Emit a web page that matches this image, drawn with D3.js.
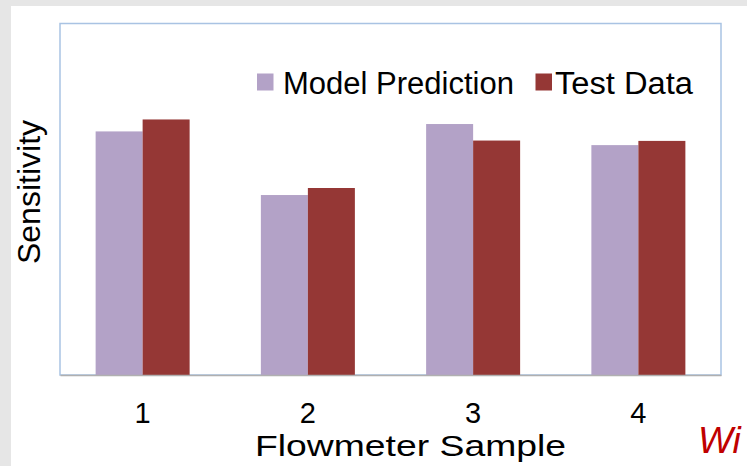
<!DOCTYPE html>
<html>
<head>
<meta charset="utf-8">
<script src="https://cdn.jsdelivr.net/npm/d3@7"></script>
<style>
  html, body { margin: 0; padding: 0; background: #e6e6e6; }
  svg { display: block; font-family: "Liberation Sans", Arial, sans-serif; }
</style>
</head>
<body>
<svg id="chart" width="747" height="466"></svg>
<script>
// Flowmeter sensitivity: model prediction vs. measured test data (relative units)
const samples = ["1", "2", "3", "4"];
const seriesNames = ["Model Prediction", "Test Data"];
const modelPrediction = [0.693, 0.512, 0.714, 0.654];
const testData = [0.727, 0.532, 0.667, 0.666];
const seriesColors = ["#b3a2c7", "#953735"];

const svg = d3.select("#chart");
const W = 747, H = 466;

// page background and white slide area
svg.append("rect").attr("width", W).attr("height", H).attr("fill", "#e6e6e6");
svg.append("rect").attr("x", 11).attr("y", 6).attr("width", W - 11).attr("height", H - 6).attr("fill", "#fff");

const plot = { left: 60, top: 23.5, right: 721, bottom: 375 };

const x0 = d3.scaleBand().domain(samples).range([plot.left, plot.right]).paddingInner(0).paddingOuter(0);
const innerW = 94;
const x1 = d3.scaleBand().domain(seriesNames).range([0, innerW]);
const y = d3.scaleLinear().domain([0, 1]).range([plot.bottom, plot.top]);

// plot frame
svg.append("rect")
  .attr("x", plot.left).attr("y", plot.top)
  .attr("width", plot.right - plot.left).attr("height", plot.bottom - plot.top)
  .attr("fill", "none").attr("stroke", "#a9c3e3").attr("stroke-width", 1.5);

const rows = samples.map((s, i) => ({ sample: s, values: [modelPrediction[i], testData[i]] }));

const groups = svg.append("g").selectAll("g").data(rows).join("g")
  .attr("transform", d => `translate(${x0(d.sample) + (x0.bandwidth() - innerW) / 2},0)`);

groups.selectAll("rect")
  .data(d => d.values.map((v, k) => ({ key: seriesNames[k], value: v, k })))
  .join("rect")
  .attr("x", d => x1(d.key))
  .attr("width", x1.bandwidth())
  .attr("y", d => y(d.value))
  .attr("height", d => y(0) - y(d.value))
  .attr("fill", d => seriesColors[d.k]);

// category axis
const xAxis = d3.axisBottom(x0).tickSize(0).tickPadding(0);
const gx = svg.append("g").attr("transform", `translate(0,${plot.bottom})`).call(xAxis);
gx.select(".domain").attr("stroke", "#b0b0b0").attr("stroke-width", 1.5);
gx.selectAll("text")
  .attr("y", 0).attr("dy", null)
  .attr("transform", "translate(0,47.5)")
  .attr("font-size", 29).attr("fill", "#000")
  .attr("font-family", "'Liberation Sans', Arial, sans-serif");

// axis titles
svg.append("text")
  .attr("x", 255).attr("y", 456)
  .attr("font-size", 30)
  .attr("textLength", 311).attr("lengthAdjust", "spacingAndGlyphs")
  .text("Flowmeter Sample");

svg.append("text")
  .attr("transform", "translate(40,192) rotate(-90)")
  .attr("text-anchor", "middle")
  .attr("font-size", 32)
  .text("Sensitivity");

// legend
const legend = svg.append("g");
const legendItems = [
  { name: seriesNames[0], color: seriesColors[0], sx: 257, tx: 283, tw: 231 },
  { name: seriesNames[1], color: seriesColors[1], sx: 535.5, tx: 555, tw: 138 }
];
legendItems.forEach(it => {
  legend.append("rect").attr("x", it.sx).attr("y", 73.5).attr("width", 16.5).attr("height", 17).attr("fill", it.color);
  legend.append("text").attr("x", it.tx).attr("y", 94).attr("font-size", 31)
    .attr("textLength", it.tw).attr("lengthAdjust", "spacingAndGlyphs")
    .text(it.name);
});

// trailing slide text, clipped by the page edge
svg.append("text")
  .attr("x", 698).attr("y", 453)
  .attr("font-size", 37).attr("font-style", "italic")
  .attr("fill", "#c00000")
  .text("Wi");
</script>
</body>
</html>
